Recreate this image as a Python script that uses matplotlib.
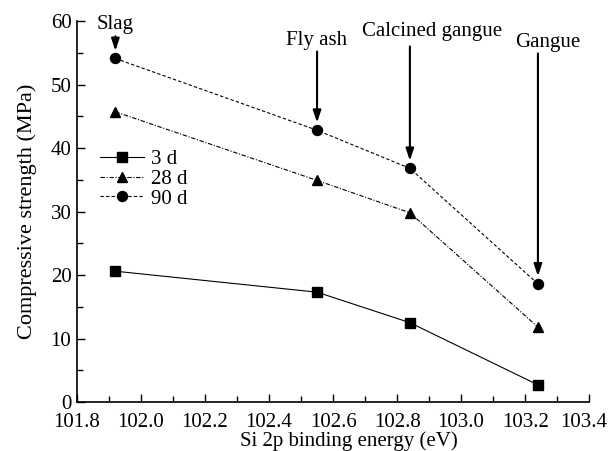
import numpy as np
import matplotlib.pyplot as plt
from matplotlib.ticker import MultipleLocator, FuncFormatter

plt.rcParams['font.family'] = 'serif'
plt.rcParams['font.serif'] = ['Liberation Serif', 'Times New Roman', 'DejaVu Serif']

# Si 2p binding energy for each material (eV)
energy = [101.92, 102.55, 102.84, 103.24]
materials = ['Slag', 'Fly ash', 'Calcined gangue', 'Gangue']

# compressive strength (MPa) at each age
strength_3d = [20.6, 17.3, 12.5, 2.7]
strength_28d = [45.7, 34.9, 29.8, 11.8]
strength_90d = [54.1, 42.8, 36.8, 18.6]

fs = 15
x_max = 103.4

fig = plt.figure(figsize=(6.08, 4.51), dpi=100)
ax = fig.add_axes([0.1266, 0.1086, 0.8424, 0.8448])

ax.plot(energy, strength_3d, color='black', lw=0.8, ls='-', marker='s', ms=6.5, label='3 d')
ax.plot(energy, strength_28d, color='black', lw=0.8, ls=(0, (4, 1.5, 1, 1.5)), marker='^', ms=7.5, label='28 d')
ax.plot(energy, strength_90d, color='black', lw=0.8, ls=(0, (3, 2)), marker='o', ms=7.2, label='90 d')

ax.set_xlim(101.8, x_max)
ax.set_ylim(0, 60)
ax.xaxis.set_major_locator(MultipleLocator(0.2))
ax.xaxis.set_minor_locator(MultipleLocator(0.1))
ax.yaxis.set_major_locator(MultipleLocator(10))
ax.yaxis.set_minor_locator(MultipleLocator(5))
# last label is drawn separately so it stays inside the figure
ax.xaxis.set_major_formatter(FuncFormatter(lambda v, p: '' if abs(v - x_max) < 1e-6 else '%.1f' % v))
ax.tick_params(which='both', direction='in', labelsize=fs, width=1, color='black')
ax.tick_params(which='major', length=6)
ax.tick_params(which='minor', length=4)
ax.tick_params(axis='x', pad=8)
ax.tick_params(axis='y', pad=4)
for s in ['top', 'right']:
    ax.spines[s].set_visible(False)
for s in ['left', 'bottom']:
    ax.spines[s].set_linewidth(1.2)

ax.annotate('%.1f' % x_max, xy=(1, 0), xycoords='axes fraction', xytext=(13, -8),
            textcoords='offset points', ha='right', va='top', fontsize=fs)

ax.set_xlabel('Si 2p binding energy (eV)', fontsize=fs)
ax.xaxis.set_label_coords(0.531, -0.077)
ax.set_ylabel('Compressive strength (MPa)', fontsize=16, labelpad=10)

leg = ax.legend(loc='upper left', bbox_to_anchor=(0.045, 0.662), frameon=False,
                fontsize=fs, handlelength=2.1, handletextpad=0.35,
                labelspacing=0.0, borderpad=0, borderaxespad=0)

# arrows pointing at the 90 d points
text_x = [101.92, 102.55, 102.91, 103.27]
text_y = [57.9, 55.4, 56.8, 55.1]
tail_y = [57.6, 55.2, 56.0, 54.9]
for e, tx, m, s, ty, tl in zip(energy, text_x, materials, strength_90d, text_y, tail_y):
    ax.annotate('', xy=(e, s + 1.2), xytext=(e, tl),
                arrowprops=dict(arrowstyle='-|>,head_length=0.6,head_width=0.2',
                                color='black', lw=1.5, mutation_scale=12,
                                shrinkA=0, shrinkB=0))
    ax.text(tx, ty, m, fontsize=fs, ha='center', va='bottom', clip_on=False)

fig.savefig('out.png', dpi=100)
